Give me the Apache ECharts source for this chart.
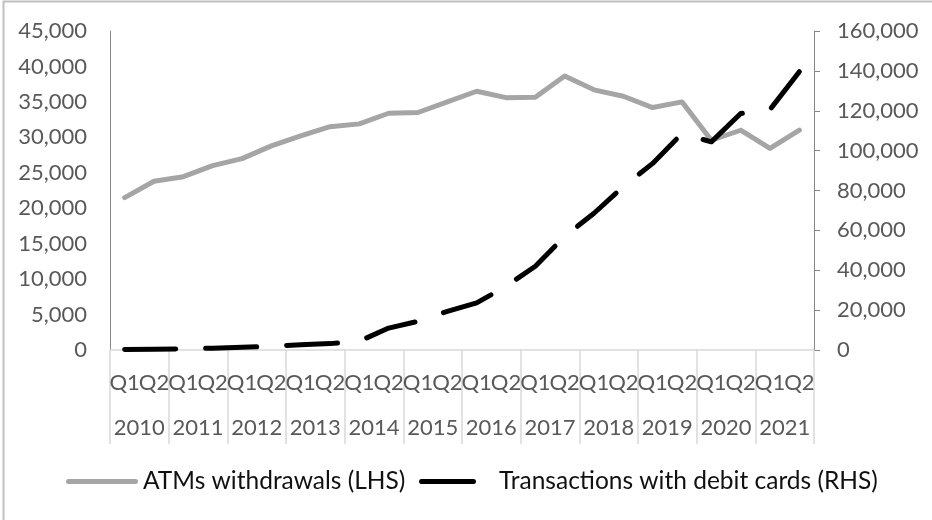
<!DOCTYPE html>
<html>
<head>
<meta charset="utf-8">
<script src="https://cdn.jsdelivr.net/npm/echarts@6/dist/echarts.min.js"></script>
<style>html,body{margin:0;padding:0;background:#fff}#c{width:932px;height:520px}</style>
</head>
<body>
<div id="c"></div>
<script>
const years = ['2010','2011','2012','2013','2014','2015','2016','2017','2018','2019','2020','2021'];
const quarters = ['Q1','Q2','Q1','Q2','Q1','Q2','Q1','Q2','Q1','Q2','Q1','Q2','Q1','Q2','Q1','Q2','Q1','Q2','Q1','Q2','Q1','Q2','Q1','Q2'];
const atmWithdrawals = [21500, 23800, 24450, 26000, 27000, 28800, 30200, 31500, 31900, 33400, 33500, 35000, 36500, 35600, 35650, 38650, 36700, 35800, 34200, 35000, 29600, 31000, 28450, 31000];
const debitTransactions = [300, 400, 600, 900, 1400, 1900, 2600, 3200, 4400, 11000, 14400, 19400, 23600, 32000, 42000, 57000, 68600, 82000, 93600, 108600, 104400, 118600, 120600, 139600];
const leftTicks = {min: 0, max: 45000, interval: 5000};
const rightTicks = {min: 0, max: 160000, interval: 20000};

const FONT = 'Lato';
const FS = 22;
const LFS = 24.5;
const fmt = v => v.toLocaleString('en-US');
const capsule = w => 'path://M2.5,0 L' + (w - 2.5) + ',0 A2.5,2.5 0 0 1 ' + (w - 2.5) + ',5 L2.5,5 A2.5,2.5 0 0 1 2.5,0 Z';

const chart = echarts.init(document.getElementById('c'), null, {renderer: 'canvas'});
chart.setOption({
  animation: false,
  textStyle: {fontFamily: FONT},
  grid: {left: 110, right: 118, top: 31, bottom: 170, containLabel: false},
  graphic: [{
    type: 'rect', shape: {x: 3.5, y: 1.5, width: 1000, height: 1000},
    style: {fill: 'none', stroke: '#BFBFBF', lineWidth: 2}, silent: true
  }],
  legend: [{
    left: 66, top: 469, padding: 0, itemWidth: 72, itemHeight: 5,
    textStyle: {fontFamily: FONT, fontSize: LFS, color: '#111'},
    data: [{name: 'ATMs withdrawals (LHS)', icon: capsule(72), itemStyle: {color: '#A5A5A5', borderWidth: 0}}]
  }, {
    left: 419, top: 469, padding: 0, itemWidth: 57, itemHeight: 5,
    textStyle: {fontFamily: FONT, fontSize: LFS, color: '#111', padding: [0, 0, 0, 18]},
    data: [{name: 'Transactions with debit cards (RHS)', icon: capsule(57), itemStyle: {color: '#000000', borderWidth: 0}}]
  }],
  xAxis: [{
    type: 'category', data: quarters, position: 'bottom', boundaryGap: true,
    axisLine: {show: true, lineStyle: {color: '#D9D9D9', width: 1.5}},
    axisTick: {show: false},
    axisLabel: {interval: 0, fontFamily: FONT, fontSize: FS, color: '#595959', margin: 33, verticalAlign: 'middle'}
  }, {
    type: 'category', data: years, position: 'bottom', boundaryGap: true, offset: 0,
    axisLine: {show: false},
    axisTick: {show: true, length: 94, interval: 0, lineStyle: {color: '#D9D9D9', width: 1.5}},
    axisLabel: {interval: 0, fontFamily: FONT, fontSize: FS, color: '#595959', margin: 78, verticalAlign: 'middle'}
  }],
  yAxis: [{
    type: 'value', position: 'left', min: leftTicks.min, max: leftTicks.max, interval: leftTicks.interval,
    axisLine: {show: true, lineStyle: {color: '#868686', width: 1}},
    axisTick: {show: false}, splitLine: {show: false},
    axisLabel: {formatter: fmt, fontFamily: FONT, fontSize: FS, color: '#595959', margin: 23}
  }, {
    type: 'value', position: 'right', min: rightTicks.min, max: rightTicks.max, interval: rightTicks.interval,
    axisLine: {show: true, lineStyle: {color: '#868686', width: 1}},
    axisTick: {show: true, length: 6, lineStyle: {color: '#868686'}}, splitLine: {show: false},
    axisLabel: {formatter: fmt, fontFamily: FONT, fontSize: FS, color: '#595959', margin: 23}
  }],
  series: [{
    name: 'ATMs withdrawals (LHS)', type: 'line', xAxisIndex: 0, yAxisIndex: 0,
    data: atmWithdrawals, symbol: 'none',
    lineStyle: {color: '#A5A5A5', width: 5, cap: 'round', join: 'round'},
    itemStyle: {color: '#A5A5A5'}
  }, {
    name: 'Transactions with debit cards (RHS)', type: 'line', xAxisIndex: 0, yAxisIndex: 1,
    data: debitTransactions, symbol: 'none',
    lineStyle: {color: '#000000', width: 5, type: [51, 30], cap: 'round', join: 'round'},
    itemStyle: {color: '#000000'}
  }]
});
</script>
</body>
</html>
